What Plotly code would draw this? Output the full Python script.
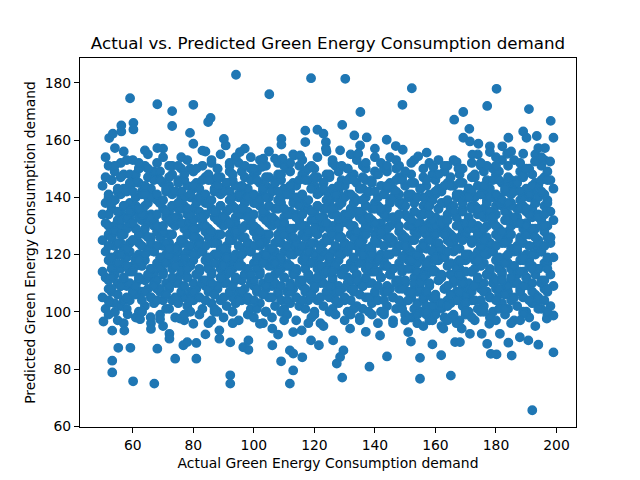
import plotly.graph_objects as go

# Dense middle of the cloud, one line per x strip (left to right)
actual_core = [
    51, 50, 52, 51, 50, 52, 51, 50, 52, 51, 50, 51, 52, 50, 51, 52,
    54, 53, 55, 54, 53, 55, 54, 53, 54, 55, 53, 54, 55, 53, 54,
    56, 57, 56, 57, 56, 57, 57, 56, 57, 56, 56, 57, 56, 57, 57, 56,
    59, 60, 58, 59, 60, 58, 59, 60, 58, 59, 60, 59, 58, 60, 59,
    62, 61, 63, 62, 61, 63, 62, 62, 61, 63, 62, 61, 63, 62, 61, 62,
    64, 65, 64, 65, 64, 65, 65, 64, 65, 64, 64, 65, 64, 65, 64,
    67, 66, 68, 67, 66, 68, 67, 66, 68, 67, 66, 68, 67, 66, 68, 67,
    70, 69, 71, 70, 69, 71, 70, 70, 69, 71, 70, 69, 71, 70, 69,
    72, 73, 72, 73, 73, 72, 73, 72, 72, 73, 72, 73, 73, 72, 73, 72,
    75, 76, 74, 75, 76, 74, 75, 76, 74, 75, 75, 76, 74, 75, 76,
    78, 77, 79, 78, 77, 79, 78, 77, 79, 78, 78, 77, 79, 78, 77, 79,
    80, 81, 80, 81, 80, 81, 81, 80, 81, 80, 80, 81, 80, 81, 80,
    83, 82, 84, 83, 82, 84, 83, 82, 84, 83, 82, 84, 83, 82, 84, 83,
    86, 85, 87, 86, 85, 87, 86, 86, 85, 87, 86, 85, 87, 86, 85,
    88, 89, 88, 89, 89, 88, 89, 88, 88, 89, 88, 89, 89, 88, 89, 88,
    91, 92, 90, 91, 92, 90, 91, 92, 90, 91, 91, 92, 90, 91, 92,
    94, 93, 95, 94, 93, 95, 94, 93, 95, 94, 94, 93, 95, 94, 93, 95,
    96, 97, 96, 97, 96, 97, 97, 96, 97, 96, 96, 97, 96, 97, 96,
    99, 98, 100, 99, 98, 100, 99, 98, 100, 99, 98, 100, 99, 98, 100, 99,
    102, 101, 103, 102, 101, 103, 102, 102, 101, 103, 102, 101, 103, 102, 101,
    104, 105, 104, 105, 105, 104, 105, 104, 104, 105, 104, 105, 105, 104, 105, 104,
    107, 108, 106, 107, 108, 106, 107, 108, 106, 107, 107, 108, 106, 107, 108,
    110, 109, 111, 110, 109, 111, 110, 109, 111, 110, 110, 109, 111, 110, 109, 111,
    112, 113, 112, 113, 112, 113, 113, 112, 113, 112, 112, 113, 112, 113, 112,
    115, 114, 116, 115, 114, 116, 115, 114, 116, 115, 114, 116, 115, 114, 116, 115,
    118, 117, 119, 118, 117, 119, 118, 118, 117, 119, 118, 117, 119, 118, 117,
    120, 121, 120, 121, 121, 120, 121, 120, 120, 121, 120, 121, 121, 120, 121, 120,
    123, 124, 122, 123, 124, 122, 123, 124, 122, 123, 123, 124, 122, 123, 124,
    126, 125, 127, 126, 125, 127, 126, 125, 127, 126, 126, 125, 127, 126, 125, 127,
    128, 129, 128, 129, 128, 129, 129, 128, 129, 128, 128, 129, 128, 129, 128,
    131, 130, 132, 131, 130, 132, 131, 130, 132, 131, 130, 132, 131, 130, 132, 131,
    134, 133, 135, 134, 133, 135, 134, 134, 133, 135, 134, 133, 135, 134, 133,
    136, 137, 136, 137, 137, 136, 137, 136, 136, 137, 136, 137, 137, 136, 137, 136,
    139, 140, 138, 139, 140, 138, 139, 140, 138, 139, 139, 140, 138, 139, 140,
    142, 141, 143, 142, 141, 143, 142, 141, 143, 142, 142, 141, 143, 142, 141, 143,
    144, 145, 144, 145, 144, 145, 145, 144, 145, 144, 144, 145, 144, 145, 144,
    147, 146, 148, 147, 146, 148, 147, 146, 148, 147, 146, 148, 147, 146, 148, 147,
    150, 149, 151, 150, 149, 151, 150, 150, 149, 151, 150, 149, 151, 150, 149,
    152, 153, 152, 153, 153, 152, 153, 152, 152, 153, 152, 153, 153, 152, 153, 152,
    155, 156, 154, 155, 156, 154, 155, 156, 154, 155, 155, 156, 154, 155, 156,
    158, 157, 159, 158, 157, 159, 158, 157, 159, 158, 158, 157, 159, 158, 157, 159,
    160, 161, 160, 161, 160, 161, 161, 160, 161, 160, 160, 161, 160, 161, 160,
    163, 162, 164, 163, 162, 164, 163, 162, 164, 163, 162, 164, 163, 162, 164, 163,
    166, 165, 167, 166, 165, 167, 166, 166, 165, 167, 166, 165, 167, 166, 165,
    168, 169, 168, 169, 169, 168, 169, 168, 168, 169, 168, 169, 169, 168, 169, 168,
    171, 172, 170, 171, 172, 170, 171, 172, 170, 171, 171, 172, 170, 171, 172,
    174, 173, 175, 174, 173, 175, 174, 173, 175, 174, 174, 173, 175, 174, 173, 175,
    176, 177, 176, 177, 176, 177, 177, 176, 177, 176, 176, 177, 176, 177, 176,
    179, 178, 180, 179, 178, 180, 179, 178, 180, 179, 178, 180, 179, 178, 180, 179,
    182, 181, 183, 182, 181, 183, 182, 182, 181, 183, 182, 181, 183, 182, 181,
    184, 185, 184, 185, 185, 184, 185, 184, 184, 185, 184, 185, 185, 184, 185, 184,
    187, 188, 186, 187, 188, 186, 187, 188, 186, 187, 187, 188, 186, 187, 188,
    190, 189, 191, 190, 189, 191, 190, 189, 191, 190, 190, 189, 191, 190, 189, 191,
    192, 193, 192, 193, 192, 193, 193, 192, 193, 192, 192, 193, 192, 193, 192,
    195, 194, 196, 195, 194, 196, 195, 194, 196, 195, 194, 196, 195, 194, 196, 195,
    198, 197, 199, 198, 197, 199, 198, 198, 197, 199, 198, 197, 199, 198, 197,
]
predicted_core = [
    101, 105, 108, 112, 114, 118, 121, 125, 127, 131, 134, 138, 140, 144, 147, 151,
    103, 107, 110, 113, 117, 120, 123, 126, 130, 132, 136, 139, 142, 146, 149,
    102, 104, 109, 111, 115, 117, 122, 124, 128, 130, 135, 137, 141, 143, 148, 152,
    104, 106, 109, 114, 116, 119, 124, 125, 129, 133, 135, 138, 143, 145, 148,
    100, 106, 107, 111, 116, 119, 120, 124, 129, 132, 133, 137, 142, 145, 146, 150,
    102, 108, 111, 112, 118, 121, 122, 127, 131, 134, 137, 140, 141, 147, 151,
    103, 105, 108, 113, 115, 117, 121, 126, 128, 130, 134, 139, 140, 143, 147, 149,
    104, 107, 110, 114, 116, 120, 123, 127, 129, 133, 136, 138, 142, 145, 149,
    101, 104, 108, 111, 115, 118, 122, 124, 127, 131, 135, 137, 141, 144, 148, 151,
    103, 106, 110, 112, 117, 119, 123, 125, 130, 133, 136, 140, 142, 146, 150,
    102, 105, 107, 112, 114, 117, 121, 124, 128, 131, 134, 137, 140, 144, 146, 150,
    104, 108, 110, 113, 118, 120, 123, 127, 129, 132, 136, 139, 143, 145, 149,
    101, 105, 109, 111, 114, 118, 121, 125, 128, 130, 135, 138, 140, 143, 147, 151,
    103, 107, 109, 114, 116, 120, 124, 126, 129, 133, 136, 138, 142, 146, 148,
    100, 104, 108, 112, 115, 117, 122, 124, 127, 131, 134, 137, 141, 144, 147, 150,
    102, 106, 110, 113, 117, 119, 123, 127, 130, 132, 135, 139, 143, 145, 149,
    103, 105, 107, 111, 115, 118, 120, 125, 128, 131, 133, 137, 140, 144, 146, 152,
    104, 108, 111, 113, 116, 121, 122, 126, 130, 134, 136, 139, 142, 147, 149,
    101, 104, 109, 112, 114, 117, 121, 124, 128, 130, 135, 138, 141, 143, 148, 150,
    103, 107, 110, 114, 117, 120, 123, 126, 129, 133, 137, 140, 142, 145, 149,
    100, 105, 108, 111, 116, 118, 122, 125, 127, 131, 134, 137, 140, 144, 147, 151,
    102, 106, 109, 113, 118, 119, 124, 127, 130, 132, 136, 139, 143, 146, 148,
    101, 104, 107, 112, 115, 117, 121, 124, 128, 131, 133, 138, 141, 143, 146, 150,
    103, 108, 110, 114, 116, 120, 123, 126, 129, 134, 135, 140, 142, 145, 149,
    102, 105, 109, 111, 114, 118, 122, 125, 127, 130, 134, 137, 140, 144, 148, 151,
    104, 107, 111, 113, 117, 121, 123, 127, 130, 132, 136, 138, 143, 146, 149,
    100, 104, 108, 112, 115, 118, 120, 124, 128, 131, 135, 137, 141, 144, 147, 150,
    102, 106, 110, 113, 116, 119, 124, 126, 129, 133, 136, 139, 142, 145, 148,
    101, 105, 107, 111, 114, 117, 121, 125, 128, 130, 134, 138, 140, 143, 147, 151,
    103, 108, 109, 114, 118, 120, 122, 127, 131, 132, 137, 139, 142, 146, 149,
    100, 104, 108, 112, 115, 117, 121, 124, 127, 131, 134, 136, 141, 144, 147, 150,
    102, 107, 110, 113, 116, 121, 123, 126, 130, 133, 135, 140, 143, 145, 148,
    101, 105, 109, 111, 115, 118, 122, 125, 128, 130, 134, 137, 140, 143, 146, 151,
    103, 106, 110, 114, 117, 119, 123, 127, 129, 132, 136, 138, 142, 146, 149,
    100, 104, 107, 112, 114, 118, 120, 124, 127, 131, 135, 137, 141, 144, 148, 150,
    102, 108, 109, 113, 116, 120, 124, 126, 130, 133, 136, 139, 143, 145, 149,
    101, 105, 108, 111, 115, 117, 121, 125, 128, 131, 133, 138, 140, 143, 147, 150,
    99, 103, 107, 110, 114, 118, 120, 123, 127, 130, 134, 137, 140, 144, 147,
    98, 101, 105, 108, 112, 115, 119, 121, 125, 128, 132, 135, 138, 141, 145, 148,
    100, 104, 107, 111, 114, 117, 122, 124, 127, 131, 134, 137, 140, 143, 147,
    97, 102, 105, 109, 113, 115, 118, 122, 126, 128, 131, 135, 139, 141, 144, 148,
    100, 103, 106, 111, 114, 118, 120, 123, 128, 130, 133, 136, 141, 143, 146,
    98, 101, 104, 108, 112, 116, 119, 121, 125, 129, 132, 134, 138, 142, 145, 149,
    99, 103, 107, 110, 113, 117, 121, 124, 127, 130, 135, 137, 140, 144, 147,
    97, 102, 105, 109, 111, 115, 118, 122, 126, 128, 131, 136, 138, 141, 145, 148,
    100, 104, 106, 110, 114, 118, 120, 124, 127, 131, 133, 137, 141, 143, 147,
    101, 104, 108, 111, 115, 117, 121, 125, 128, 130, 134, 137, 141, 144, 147, 151,
    102, 107, 110, 113, 117, 120, 122, 126, 130, 133, 136, 139, 142, 146, 149,
    100, 105, 108, 112, 114, 118, 121, 124, 127, 131, 135, 137, 140, 143, 148, 150,
    103, 106, 109, 114, 116, 119, 124, 127, 129, 132, 137, 140, 142, 145, 149,
    101, 104, 107, 111, 115, 117, 122, 125, 128, 130, 134, 138, 141, 144, 146, 151,
    102, 108, 110, 113, 118, 121, 123, 126, 131, 133, 136, 139, 143, 146, 149,
    100, 105, 109, 112, 114, 118, 120, 124, 127, 131, 135, 137, 140, 143, 147, 150,
    103, 106, 110, 114, 116, 120, 123, 127, 129, 133, 136, 138, 142, 145, 148,
    101, 104, 108, 111, 115, 117, 121, 125, 128, 130, 134, 137, 141, 144, 147, 151,
    102, 107, 109, 113, 117, 119, 124, 126, 130, 132, 135, 139, 143, 146, 149,
]

# Second pass through the middle, strips between the first ones
actual_mid = [
    52, 53, 52, 53, 53, 52, 53, 52, 52, 53, 52, 53,
    55, 56, 54, 55, 56, 55, 54, 56, 55, 54, 55, 56,
    58, 59, 57, 58, 59, 58, 57, 59, 58, 57, 58, 59,
    60, 61, 60, 61, 61, 60, 61, 60, 60, 61, 60, 61,
    63, 64, 62, 63, 64, 63, 62, 64, 63, 62, 63, 64,
    66, 67, 65, 66, 67, 66, 65, 67, 66, 65, 66, 67,
    68, 69, 68, 69, 69, 68, 69, 68, 68, 69, 68, 69,
    71, 72, 70, 71, 72, 71, 70, 72, 71, 70, 71, 72,
    74, 75, 73, 74, 75, 74, 73, 75, 74, 73, 74, 75,
    76, 77, 76, 77, 77, 76, 77, 76, 76, 77, 76, 77,
    79, 80, 78, 79, 80, 79, 78, 80, 79, 78, 79, 80,
    82, 83, 81, 82, 83, 82, 81, 83, 82, 81, 82, 83,
    84, 85, 84, 85, 85, 84, 85, 84, 84, 85, 84, 85,
    87, 88, 86, 87, 88, 87, 86, 88, 87, 86, 87, 88,
    90, 91, 89, 90, 91, 90, 89, 91, 90, 89, 90, 91,
    92, 93, 92, 93, 93, 92, 93, 92, 92, 93, 92, 93,
    95, 96, 94, 95, 96, 95, 94, 96, 95, 94, 95, 96,
    98, 99, 97, 98, 99, 98, 97, 99, 98, 97, 98, 99,
    100, 101, 100, 101, 101, 100, 101, 100, 100, 101, 100, 101,
    103, 104, 102, 103, 104, 103, 102, 104, 103, 102, 103, 104,
    106, 107, 105, 106, 107, 106, 105, 107, 106, 105, 106, 107,
    108, 109, 108, 109, 109, 108, 109, 108, 108, 109, 108, 109,
    111, 112, 110, 111, 112, 111, 110, 112, 111, 110, 111, 112,
    114, 115, 113, 114, 115, 114, 113, 115, 114, 113, 114, 115,
    116, 117, 116, 117, 117, 116, 117, 116, 116, 117, 116, 117,
    119, 120, 118, 119, 120, 119, 118, 120, 119, 118, 119, 120,
    122, 123, 121, 122, 123, 122, 121, 123, 122, 121, 122, 123,
    124, 125, 124, 125, 125, 124, 125, 124, 124, 125, 124, 125,
    127, 128, 126, 127, 128, 127, 126, 128, 127, 126, 127, 128,
    130, 131, 129, 130, 131, 130, 129, 131, 130, 129, 130, 131,
    132, 133, 132, 133, 133, 132, 133, 132, 132, 133, 132, 133,
    135, 136, 134, 135, 136, 135, 134, 136, 135, 134, 135, 136,
    138, 139, 137, 138, 139, 138, 137, 139, 138, 137, 138, 139,
    140, 141, 140, 141, 141, 140, 141, 140, 140, 141, 140, 141,
    143, 144, 142, 143, 144, 143, 142, 144, 143, 142, 143, 144,
    146, 147, 145, 146, 147, 146, 145, 147, 146, 145, 146, 147,
    148, 149, 148, 149, 149, 148, 149, 148, 148, 149, 148, 149,
    151, 152, 150, 151, 152, 151, 150, 152, 151, 150, 151, 152,
    154, 155, 153, 154, 155, 154, 153, 155, 154, 153, 154, 155,
    156, 157, 156, 157, 157, 156, 157, 156, 156, 157, 156, 157,
    159, 160, 158, 159, 160, 159, 158, 160, 159, 158, 159, 160,
    162, 163, 161, 162, 163, 162, 161, 163, 162, 161, 162, 163,
    164, 165, 164, 165, 165, 164, 165, 164, 164, 165, 164, 165,
    167, 168, 166, 167, 168, 167, 166, 168, 167, 166, 167, 168,
    170, 171, 169, 170, 171, 170, 169, 171, 170, 169, 170, 171,
    172, 173, 172, 173, 173, 172, 173, 172, 172, 173, 172, 173,
    175, 176, 174, 175, 176, 175, 174, 176, 175, 174, 175, 176,
    178, 179, 177, 178, 179, 178, 177, 179, 178, 177, 178, 179,
    180, 181, 180, 181, 181, 180, 181, 180, 180, 181, 180, 181,
    183, 184, 182, 183, 184, 183, 182, 184, 183, 182, 183, 184,
    186, 187, 185, 186, 187, 186, 185, 187, 186, 185, 186, 187,
    188, 189, 188, 189, 189, 188, 189, 188, 188, 189, 188, 189,
    191, 192, 190, 191, 192, 191, 190, 192, 191, 190, 191, 192,
    194, 195, 193, 194, 195, 194, 193, 195, 194, 193, 194, 195,
    196, 197, 196, 197, 197, 196, 197, 196, 196, 197, 196, 197,
]
predicted_mid = [
    104, 108, 111, 115, 119, 123, 126, 130, 134, 138, 141, 146,
    106, 109, 113, 117, 120, 124, 128, 132, 135, 139, 143, 147,
    105, 110, 112, 116, 121, 122, 127, 131, 133, 137, 142, 145,
    107, 109, 114, 118, 119, 125, 129, 131, 136, 140, 142, 148,
    104, 107, 112, 116, 120, 123, 127, 129, 134, 136, 141, 144,
    105, 110, 113, 115, 121, 124, 126, 132, 133, 138, 140, 146,
    104, 108, 111, 115, 119, 123, 126, 130, 134, 138, 141, 146,
    106, 109, 113, 117, 120, 124, 128, 132, 135, 139, 143, 147,
    105, 110, 112, 116, 121, 122, 127, 131, 133, 137, 142, 145,
    107, 109, 114, 118, 119, 125, 129, 131, 136, 140, 142, 148,
    104, 107, 112, 116, 120, 123, 127, 129, 134, 136, 141, 144,
    105, 110, 113, 115, 121, 124, 126, 132, 133, 138, 140, 146,
    104, 108, 111, 115, 119, 123, 126, 130, 134, 138, 141, 146,
    106, 109, 113, 117, 120, 124, 128, 132, 135, 139, 143, 147,
    105, 110, 112, 116, 121, 122, 127, 131, 133, 137, 142, 145,
    107, 109, 114, 118, 119, 125, 129, 131, 136, 140, 142, 148,
    104, 107, 112, 116, 120, 123, 127, 129, 134, 136, 141, 144,
    105, 110, 113, 115, 121, 124, 126, 132, 133, 138, 140, 146,
    104, 108, 111, 115, 119, 123, 126, 130, 134, 138, 141, 146,
    106, 109, 113, 117, 120, 124, 128, 132, 135, 139, 143, 147,
    105, 110, 112, 116, 121, 122, 127, 131, 133, 137, 142, 145,
    107, 109, 114, 118, 119, 125, 129, 131, 136, 140, 142, 148,
    104, 107, 112, 116, 120, 123, 127, 129, 134, 136, 141, 144,
    105, 110, 113, 115, 121, 124, 126, 132, 133, 138, 140, 146,
    104, 108, 111, 115, 119, 123, 126, 130, 134, 138, 141, 146,
    106, 109, 113, 117, 120, 124, 128, 132, 135, 139, 143, 147,
    105, 110, 112, 116, 121, 122, 127, 131, 133, 137, 142, 145,
    107, 109, 114, 118, 119, 125, 129, 131, 136, 140, 142, 148,
    104, 107, 112, 116, 120, 123, 127, 129, 134, 136, 141, 144,
    105, 110, 113, 115, 121, 124, 126, 132, 133, 138, 140, 146,
    104, 108, 111, 115, 119, 123, 126, 130, 134, 138, 141, 146,
    106, 109, 113, 117, 120, 124, 128, 132, 135, 139, 143, 147,
    105, 110, 112, 116, 121, 122, 127, 131, 133, 137, 142, 145,
    107, 109, 114, 118, 119, 125, 129, 131, 136, 140, 142, 148,
    104, 107, 112, 116, 120, 123, 127, 129, 134, 136, 141, 144,
    105, 110, 113, 115, 121, 124, 126, 132, 133, 138, 140, 146,
    104, 108, 111, 115, 119, 123, 126, 130, 134, 138, 141, 146,
    104, 107, 111, 115, 118, 122, 126, 130, 133, 137, 141, 145,
    103, 108, 110, 114, 119, 120, 125, 129, 131, 135, 140, 143,
    105, 107, 112, 116, 117, 123, 127, 129, 134, 138, 140, 146,
    102, 105, 110, 114, 118, 121, 125, 127, 132, 134, 139, 142,
    103, 108, 111, 113, 119, 122, 124, 130, 131, 136, 138, 144,
    102, 106, 109, 113, 117, 121, 124, 128, 132, 136, 139, 144,
    104, 107, 111, 115, 118, 122, 126, 130, 133, 137, 141, 145,
    103, 108, 110, 114, 119, 120, 125, 129, 131, 135, 140, 143,
    107, 109, 114, 118, 119, 125, 129, 131, 136, 140, 142, 148,
    104, 107, 112, 116, 120, 123, 127, 129, 134, 136, 141, 144,
    105, 110, 113, 115, 121, 124, 126, 132, 133, 138, 140, 146,
    104, 108, 111, 115, 119, 123, 126, 130, 134, 138, 141, 146,
    106, 109, 113, 117, 120, 124, 128, 132, 135, 139, 143, 147,
    105, 110, 112, 116, 121, 122, 127, 131, 133, 137, 142, 145,
    107, 109, 114, 118, 119, 125, 129, 131, 136, 140, 142, 148,
    104, 107, 112, 116, 120, 123, 127, 129, 134, 136, 141, 144,
    105, 110, 113, 115, 121, 124, 126, 132, 133, 138, 140, 146,
    104, 108, 111, 115, 119, 123, 126, 130, 134, 138, 141, 146,
]

# Third pass: one low, one middle and one high point per strip
actual_edge = [
    52, 55, 58, 61, 63, 66, 69, 71, 74, 77, 79, 82, 85, 87, 90, 93, 95, 98, 101, 103,
    106, 109, 111, 114, 117, 119, 122, 125, 127, 130, 133, 135, 138, 141, 143, 146, 149, 151, 154, 157,
    159, 162, 165, 167, 170, 173, 175, 178, 181, 183, 186, 189, 191, 194, 197,
    53, 56, 59, 62, 64, 67, 70, 72, 75, 78, 80, 83, 86, 88, 91, 94, 96, 99, 102, 104,
    107, 110, 112, 115, 118, 120, 123, 126, 128, 131, 134, 136, 139, 142, 144, 147, 150, 152, 155, 158,
    160, 163, 166, 168, 171, 174, 176, 179, 182, 184, 187, 190, 192, 195, 198,
    51, 54, 57, 60, 62, 65, 68, 70, 73, 76, 78, 81, 84, 86, 89, 92, 94, 97, 100, 102,
    105, 108, 110, 113, 116, 118, 121, 124, 126, 129, 132, 134, 137, 140, 142, 145, 148, 150, 153, 156,
    158, 161, 164, 166, 169, 172, 174, 177, 180, 182, 185, 188, 190, 193, 196,
]
predicted_edge = [
    99, 97, 101, 98, 100, 96, 99, 101, 98, 97, 100, 99, 96, 101, 98, 100, 97, 99, 101, 96,
    98, 100, 99, 97, 101, 98, 96, 100, 99, 97, 101, 98, 100, 96, 99, 97, 101, 98, 96, 99,
    97, 95, 98, 96, 99, 97, 100, 98, 101, 99, 97, 100, 98, 101, 99,
    112, 127, 135, 118, 141, 109, 130, 122, 138, 115, 126, 133, 110, 144, 119, 128, 136, 113, 124, 140,
    117, 131, 109, 137, 121, 129, 143, 114, 126, 134, 111, 139, 120, 128, 116, 142, 123, 132, 110, 137,
    119, 127, 135, 113, 140, 118, 125, 133, 111, 138, 122, 130, 115, 142, 126,
    154, 151, 156, 153, 150, 155, 152, 157, 151, 154, 153, 150, 156, 152, 155, 151, 154, 157, 150, 153,
    156, 152, 151, 155, 153, 150, 154, 156, 152, 151, 155, 153, 150, 157, 152, 154, 151, 149, 153, 150,
    152, 148, 151, 153, 150, 152, 155, 151, 154, 153, 156, 152, 150, 155, 153,
]

# Sparser points above the cloud
actual_high = [
    94.1, 59.1, 68.1, 80.0, 73.0, 85.7, 84.9, 73.0, 56.2, 56.2, 60.2, 60.2, 52.2, 53.4, 54.1, 78.9,
    80.0, 83.0, 90.1, 90.7, 64.0, 68.1,
    118.9, 130.2, 105.1, 149.1, 135.2, 129.2, 117.0, 117.0, 121.0, 123.0, 109.1, 109.1, 133.2, 137.3,
    143.9, 146.9, 149.2, 123.8, 123.8, 128.5, 135.1, 134.5, 107.0, 109.5, 103.1, 102.6, 95.4, 113.3, 115.3,
    152.2, 180.2, 177.1, 190.9, 169.2, 166.2, 198.1, 171.2, 189.0, 190.1, 199.0, 169.2, 171.4, 174.2,
    184.1, 193.5, 194.0, 196.2, 178.0, 178.0, 182.1, 183.7, 172.2, 154.3, 157.1, 189.0, 192.9, 197.9,
    159.3, 167.0, 167.6,
    58, 62, 70, 75, 86, 92, 99, 112, 119, 126, 131, 140, 144, 152, 161, 175, 180, 186, 195, 65, 88, 97,
    137, 147, 163,
]
predicted_high = [
    182.8, 174.6, 172.5, 172.3, 170.1, 167.7, 166.3, 164.9, 165.1, 163.0, 166.0, 163.7, 160.7, 162.2, 157.2, 162.5,
    158.7, 156.3, 160.4, 158.1, 156.4, 157.2,
    181.6, 181.4, 176.0, 172.3, 169.8, 165.3, 163.3, 159.3, 163.6, 162.2, 160.4, 158.4, 161.6, 160.9,
    160.1, 157.9, 156.6, 159.3, 157.0, 156.4, 158.1, 155.2, 153.5, 153.5, 153.5, 150.6, 155.8, 154.6, 154.6,
    178.1, 177.9, 171.9, 170.8, 169.8, 167.1, 166.7, 163.9, 163.0, 160.8, 160.8, 160.8, 159.5, 158.7,
    160.8, 161.4, 157.2, 157.2, 157.8, 155.8, 157.8, 155.2, 154.9, 154.3, 155.6, 155.2, 152.5, 152.5,
    150.6, 152.3, 150.0,
    153, 152, 154, 151, 153, 152, 154, 152, 151, 153, 150, 154, 151, 152, 153, 152, 151, 153, 154, 150, 150, 151,
    152, 153, 151,
]

# Sparser points below the cloud
actual_low = [
    50.3, 53.2, 57.2, 55.2, 59.2, 53.2, 53.2, 60.1, 67.1, 68.1, 74.0, 81.0, 92.2, 92.2, 72.1, 72.1,
    76.7, 78.0, 81.0, 84.0, 88.6, 88.6, 92.2, 96.5, 98.2, 52.2, 54.1, 58.3, 62.4, 65.9, 69.0, 75.6, 80.0,
    98.2, 106.1, 109.0, 111.9, 113.0, 116.0, 113.0, 111.9, 118.9, 121.5, 127.4, 128.5, 129.6, 129.2,
    138.2, 144.0, 102.0, 106.1, 113.0, 115.8, 126.2, 131.8, 141.7,
    192.0, 154.9, 165.1, 154.9, 161.9, 151.9, 159.0, 178.3, 180.2, 185.2, 199.0, 177.1, 184.1, 194.0,
    166.5, 168.1, 171.4, 175.3, 177.8, 151.0, 187.9, 190.7, 181.3, 189.0, 196.8, 199.0, 162.6, 168.7,
    57, 63, 70, 77, 86, 93, 100, 104, 110, 118, 123, 135, 139, 146, 150, 156, 160, 164, 172, 180,
    185, 193, 197, 87, 120, 132, 143, 157, 176, 188, 66, 108, 137, 154, 170, 183,
]
predicted_low = [
    96.6, 93.4, 93.4, 87.4, 87.4, 82.9, 78.8, 75.7, 74.9, 87.1, 83.6, 83.6, 77.8, 74.9, 92.3, 90.6,
    88.3, 89.4, 89.1, 92.1, 90.6, 93.5, 89.3, 87.6, 90.0, 103.1, 99.9, 99.1, 97.4, 98.1, 97.4, 97.6, 95.8,
    86.7, 88.3, 82.7, 86.5, 85.4, 84.1, 79.5, 74.9, 90.0, 88.3, 81.9, 84.2, 86.5, 77.0,
    80.8, 84.4, 95.8, 94.1, 92.9, 93.5, 90.0, 94.1, 91.7,
    65.6, 76.6, 77.7, 83.9, 84.8, 89.6, 88.6, 85.3, 85.1, 84.7, 85.8, 88.8, 89.2, 88.5,
    89.4, 89.4, 92.3, 92.3, 95.8, 92.9, 91.1, 90.0, 92.3, 99.3, 97.6, 98.7, 94.1, 94.1,
    96, 100, 95, 99, 97, 96, 98, 100, 97, 96, 95, 97, 99, 96, 97, 95, 99, 97, 98, 97,
    96, 95, 100, 100, 99, 99, 100, 100, 100, 97, 94, 92, 93, 99, 100, 101,
]

x_ticks = [60, 80, 100, 120, 140, 160, 180, 200]
y_ticks = [60, 80, 100, 120, 140, 160, 180]

actual = actual_core + actual_mid + actual_edge + actual_high + actual_low
predicted = predicted_core + predicted_mid + predicted_edge + predicted_high + predicted_low
print(len(actual), len(predicted))


def padded(values, frac=0.05):
    lo, hi = min(values), max(values)
    pad = (hi - lo) * frac
    return [lo - pad, hi + pad]


fig = go.Figure()
fig.add_trace(go.Scatter(
    x=actual,
    y=predicted,
    mode='markers',
    marker=dict(size=8.4, color='#1f77b4', line=dict(width=1.4, color='#1f77b4')),
    showlegend=False,
))

axis_style = dict(
    showline=True, linecolor='black', linewidth=1.1, mirror=True,
    ticks='outside', ticklen=5, tickwidth=1.1, tickcolor='black',
    showgrid=False, zeroline=False,
    tickfont=dict(family='DejaVu Sans', size=13.9, color='black'),
)

# the page body adds 8px around the figure, so the figure is 8px smaller
fig.update_layout(
    width=632, height=472,
    margin=dict(l=72, r=64, t=50, b=53),
    paper_bgcolor='white', plot_bgcolor='white',
    title=dict(
        text='Actual vs. Predicted Green Energy Consumption demand',
        x=0.5, xref='paper', y=1 - 35 / 472, yref='container', yanchor='middle',
        font=dict(family='DejaVu Sans', size=16.7, color='black'),
    ),
    xaxis=dict(
        range=padded(actual), tickvals=x_ticks,
        title=dict(text='Actual Green Energy Consumption demand', standoff=6,
                   font=dict(family='DejaVu Sans', size=13.9, color='black')),
        **axis_style,
    ),
    yaxis=dict(
        range=padded(predicted), tickvals=y_ticks,
        title=dict(text='Predicted Green Energy Consumption demand', standoff=5,
                   font=dict(family='DejaVu Sans', size=13.9, color='black')),
        **axis_style,
    ),
)

fig.write_html("out.html")
